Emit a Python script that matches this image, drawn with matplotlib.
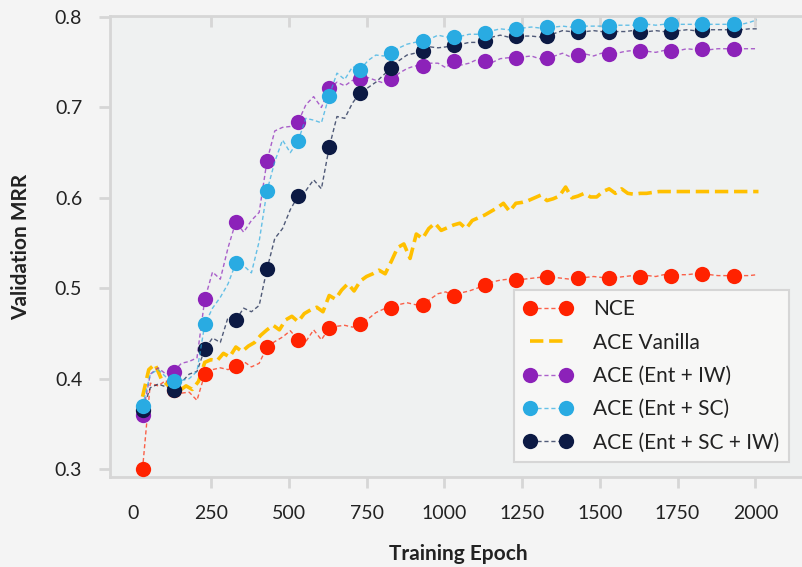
import matplotlib
matplotlib.use("Agg")
import matplotlib.pyplot as plt
import numpy as np

plt.rcParams['font.family'] = ['Lato', 'DejaVu Sans']

# ---------------- data ----------------
# dense evaluation epochs for the marker series (markers every 4th point)
epochs = list(range(30, 2006, 25))

nce = [0.300, 0.395, 0.392, 0.398, 0.387, 0.384, 0.385, 0.376,
       0.405, 0.410, 0.412, 0.410, 0.414, 0.419, 0.413, 0.417,
       0.435, 0.441, 0.446, 0.453, 0.443, 0.441, 0.454, 0.443,
       0.456, 0.458, 0.459, 0.457, 0.460, 0.466, 0.473, 0.477,
       0.478, 0.482, 0.484, 0.482, 0.481, 0.488, 0.494, 0.496,
       0.491, 0.495, 0.497, 0.500, 0.5035, 0.507, 0.509, 0.510,
       0.509, 0.510, 0.511, 0.512, 0.5127, 0.512, 0.511, 0.510,
       0.511, 0.512, 0.513, 0.512, 0.511, 0.512, 0.513, 0.514,
       0.513, 0.514, 0.513, 0.515, 0.5135, 0.515, 0.515, 0.516,
       0.5154, 0.515, 0.514, 0.514, 0.5135, 0.514, 0.514, 0.515]

ent_iw = [0.360, 0.405, 0.412, 0.405, 0.4077, 0.417, 0.419, 0.423,
          0.4877, 0.518, 0.510, 0.545, 0.5736, 0.562, 0.575, 0.584,
          0.6407, 0.674, 0.678, 0.679, 0.6838, 0.703, 0.712, 0.700,
          0.721, 0.728, 0.724, 0.730, 0.731, 0.733, 0.730, 0.727,
          0.731, 0.738, 0.743, 0.746, 0.7458, 0.749, 0.749, 0.744,
          0.7513, 0.747, 0.749, 0.753, 0.751, 0.750, 0.754, 0.755,
          0.7547, 0.756, 0.757, 0.754, 0.755, 0.757, 0.760, 0.756,
          0.7576, 0.759, 0.757, 0.760, 0.7588, 0.760, 0.762, 0.763,
          0.7624, 0.762, 0.761, 0.763, 0.7624, 0.763, 0.765, 0.764,
          0.7646, 0.764, 0.765, 0.765, 0.7646, 0.765, 0.765, 0.765]

ent_sc = [0.3697, 0.405, 0.410, 0.402, 0.397, 0.398, 0.400, 0.408,
          0.460, 0.478, 0.490, 0.505, 0.528, 0.525, 0.517, 0.552,
          0.6075, 0.640, 0.664, 0.650, 0.663, 0.688, 0.686, 0.683,
          0.713, 0.738, 0.731, 0.745, 0.742, 0.752, 0.758, 0.757,
          0.7605, 0.766, 0.770, 0.772, 0.7735, 0.776, 0.780, 0.778,
          0.7775, 0.779, 0.781, 0.781, 0.782, 0.785, 0.787, 0.786,
          0.787, 0.788, 0.789, 0.788, 0.7886, 0.789, 0.790, 0.789,
          0.790, 0.790, 0.790, 0.790, 0.790, 0.791, 0.791, 0.791,
          0.7918, 0.792, 0.791, 0.792, 0.7918, 0.792, 0.792, 0.792,
          0.792, 0.792, 0.792, 0.792, 0.792, 0.792, 0.794, 0.797]

ent_sc_iw = [0.3653, 0.390, 0.394, 0.391, 0.388, 0.396, 0.405, 0.408,
             0.4327, 0.445, 0.440, 0.468, 0.4648, 0.478, 0.474, 0.481,
             0.5212, 0.555, 0.566, 0.587, 0.602, 0.608, 0.620, 0.610,
             0.6559, 0.690, 0.688, 0.705, 0.7163, 0.722, 0.728, 0.736,
             0.744, 0.752, 0.758, 0.760, 0.7624, 0.767, 0.766, 0.767,
             0.769, 0.770, 0.772, 0.772, 0.7735, 0.778, 0.780, 0.778,
             0.779, 0.779, 0.779, 0.778, 0.7793, 0.782, 0.785, 0.784,
             0.7837, 0.784, 0.785, 0.784, 0.7837, 0.784, 0.784, 0.785,
             0.7837, 0.784, 0.785, 0.784, 0.7837, 0.785, 0.786, 0.785,
             0.786, 0.786, 0.786, 0.786, 0.786, 0.786, 0.787, 0.787]

# ACE Vanilla (no markers), evaluated every 20 epochs
epochs_vanilla = list(range(30, 2011, 20))
ace_vanilla = [0.380, 0.410, 0.416, 0.400, 0.393, 0.388, 0.387, 0.392,
               0.388, 0.397, 0.418, 0.421, 0.420, 0.428, 0.424, 0.435,
               0.430, 0.436, 0.440, 0.448, 0.454, 0.459, 0.454, 0.465,
               0.469, 0.463, 0.472, 0.476, 0.479, 0.474, 0.492, 0.488,
               0.498, 0.505, 0.497, 0.508, 0.513, 0.516, 0.520, 0.516,
               0.530, 0.545, 0.549, 0.533, 0.560, 0.555, 0.566, 0.572,
               0.564, 0.567, 0.570, 0.572, 0.566, 0.575, 0.578, 0.581,
               0.585, 0.589, 0.594, 0.585, 0.594, 0.595, 0.597, 0.600,
               0.603, 0.597, 0.599, 0.602, 0.612, 0.600, 0.602, 0.605,
               0.601, 0.601, 0.607, 0.610, 0.605, 0.610, 0.605, 0.604,
               0.605, 0.605, 0.606, 0.607, 0.607, 0.607, 0.607, 0.607,
               0.607, 0.607, 0.607, 0.607, 0.607, 0.607, 0.607, 0.607,
               0.607, 0.607, 0.607, 0.607]

series_labels = ["NCE", "ACE Vanilla", "ACE (Ent + IW)", "ACE (Ent + SC)", "ACE (Ent + SC + IW)"]
x_ticks = [0, 250, 500, 750, 1000, 1250, 1500, 1750, 2000]
y_ticks = [0.3, 0.4, 0.5, 0.6, 0.7, 0.8]

# ---------------- style ----------------
c_nce = "#ff2200"
c_van = "#ffc000"
c_iw = "#8c22b9"
c_sc = "#29abe2"
c_sciw = "#0c1a44"
grey = "#d6d6d6"

fig = plt.figure(figsize=(8.03, 5.67), dpi=100, facecolor="#f4f4f4")
ax = fig.add_axes([110 / 803, 1 - 477 / 567, 697 / 803, (477 - 16) / 567])
ax.set_facecolor("#eff1f1")

ms = 11
def marked(y, color, label, z):
    ax.plot(epochs, y, linestyle=(0, (3, 2)), linewidth=1.0,
            color=matplotlib.colors.to_rgba(color, 0.7),
            marker="o", markersize=ms, markevery=(0, 4),
            markerfacecolor=color, markeredgecolor=color, markeredgewidth=0,
            label=label, zorder=z)

marked(nce, c_nce, series_labels[0], 3)
ax.plot(epochs_vanilla, ace_vanilla, linestyle="--", linewidth=2.6, color=c_van,
        label=series_labels[1], zorder=2.5)
marked(ent_iw, c_iw, series_labels[2], 3.2)
marked(ent_sc, c_sc, series_labels[3], 3.4)
marked(ent_sc_iw, c_sciw, series_labels[4], 3.3)

ax.set_xlim(-74.6, 2166)
ax.set_ylim(0.2912, 0.8012)
ax.set_xticks(x_ticks)
ax.set_xticklabels([str(t) for t in x_ticks])
ax.set_yticks(y_ticks)
ax.set_yticklabels([f"{t:.1f}" for t in y_ticks])

for s in ax.spines.values():
    s.set_color(grey)
    s.set_linewidth(2)

ax.tick_params(axis="both", direction="out", length=8, width=2, color=grey,
               labelsize=14, labelcolor="#222222", pad=12)
ax.xaxis.get_major_ticks()[0].tick1line.set_visible(False)

top = ax.secondary_xaxis("top")
top.set_xticks(x_ticks[1:])
top.tick_params(direction="in", length=8, width=2, color=grey, labeltop=False)
top.spines["top"].set_visible(False)

ax.set_xlabel("Training Epoch", fontsize=15, fontweight="bold", color="#222222", labelpad=16)
ax.set_ylabel("Validation MRR", fontsize=15, fontweight="bold", color="#222222", labelpad=17)

leg = ax.legend(loc="lower right", bbox_to_anchor=(789 / 803, 1 - 462 / 567),
                bbox_transform=fig.transFigure, borderaxespad=0, numpoints=2,
                fontsize=15, frameon=True, fancybox=False, handlelength=2.35,
                handletextpad=1.0, labelspacing=0.64, borderpad=0.45)
leg.get_frame().set_facecolor("#f7f7f6")
leg.get_frame().set_edgecolor(grey)
leg.get_frame().set_linewidth(1.5)
leg.get_frame().set_alpha(1)
for t in leg.get_texts():
    t.set_color("#222222")

fig.savefig("out.png", dpi=100, facecolor=fig.get_facecolor())
